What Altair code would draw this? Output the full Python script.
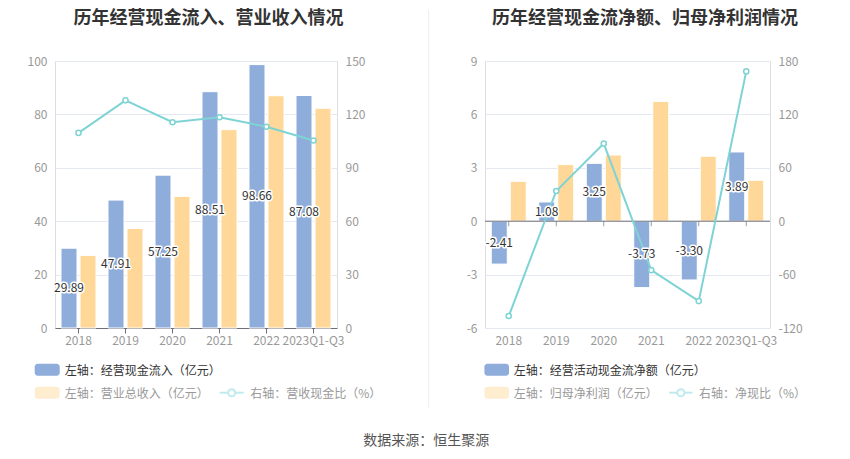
import altair as alt
import pandas as pd

# ---------------- data ----------------
categories = ["2018", "2019", "2020", "2021", "2022", "2023Q1-Q3"]
cash_inflow = [29.89, 47.91, 57.25, 88.51, 98.66, 87.08]
revenue = [27.2, 37.3, 49.3, 74.3, 87.0, 82.3]
cash_ratio = [109.6, 127.9, 115.6, 118.4, 113.1, 105.3]
net_cash = [-2.41, 1.08, 3.25, -3.73, -3.30, 3.89]
net_profit = [2.24, 3.18, 3.72, 6.73, 3.65, 2.30]
net_ratio = [-106.6, 34.0, 87.2, -55.0, -89.8, 168.3]

left_ticks_1 = [0, 20, 40, 60, 80, 100]
right_ticks_1 = [0, 30, 60, 90, 120, 150]
left_ticks_2 = [-6, -3, 0, 3, 6, 9]
right_ticks_2 = [-120, -60, 0, 60, 120, 180]

titles = ["历年经营现金流入、营业收入情况", "历年经营现金流净额、归母净利润情况"]
legend_1 = ["左轴：经营现金流入（亿元）", "左轴：营业总收入（亿元）", "右轴：营收现金比（%）"]
legend_2 = ["左轴：经营活动现金流净额（亿元）", "左轴：归母净利润（亿元）", "右轴：净现比（%）"]
source_text = "数据来源：恒生聚源"

# ---------------- style ----------------
FONT = "Noto Sans CJK SC"
BLUE, ORANGE, TEAL = "#8FADDB", "#FFD899", "#7ED3D4"
ORANGE_L, TEAL_L = "#FFEDD0", "#BFEBEC"
GRID, AXIS, LABEL = "#E3E8F2", "#6E7079", "#999999"
H = 267
BAR_W, BAR_OFF = 16, 9.5


def one_row(**kw):
    return pd.DataFrame([kw])


def text_layer(txt, x, y, size=12, color="#333333", align="left", weight="normal"):
    return alt.Chart(one_row(t=txt)).mark_text(
        text=txt, font=FONT, fontSize=size, color=color, align=align,
        baseline="middle", fontWeight=weight
    ).encode(x=alt.value(x), y=alt.value(y))


def panel(W, title, title_x, v1, v2, ratio, ldom, lvals, rdom, rvals,
          legend, lg, zero_line, extra=()):
    df = pd.DataFrame({
        "cat": categories, "v1": v1, "v2": v2, "r": ratio,
        "lab": [f"{v:.2f}" for v in v1],
    })

    x = alt.X(
        "cat:N", sort=categories, title=None,
        scale=alt.Scale(paddingInner=0.27, paddingOuter=0.135),
        axis=alt.Axis(
            labelAngle=0, labelFont=FONT, labelFontSize=12, labelColor=LABEL,
            labelOverlap=False, labelBound=False, grid=False,
            domain=not zero_line, domainColor=AXIS,
            ticks=not zero_line, tickColor=AXIS, tickSize=5,
            labelPadding=7 if zero_line else 2,
        ),
    )
    lscale = alt.Scale(domain=ldom, nice=False)
    rscale = alt.Scale(domain=rdom, nice=False)
    base = alt.Chart(df)

    bars1 = base.mark_bar(width=BAR_W, xOffset=-BAR_OFF, color=BLUE,
                          stroke="white", strokeWidth=1).encode(
        x=x,
        y=alt.Y("v1:Q", scale=lscale, title=None,
                axis=alt.Axis(orient="left", values=lvals, grid=True, gridColor=GRID,
                              domain=False, ticks=False, labelPadding=8,
                              labelFont=FONT, labelFontSize=12, labelColor=LABEL,
                              labelExpr="'' + datum.value")),
    )
    bars2 = base.mark_bar(width=BAR_W, xOffset=BAR_OFF, color=ORANGE,
                          stroke="white", strokeWidth=1).encode(
        x=x, y=alt.Y("v2:Q", scale=lscale, axis=None))
    layers = [bars1, bars2]

    if zero_line:
        zero = alt.Chart(one_row(z=0)).mark_rule(color=AXIS, strokeWidth=1).encode(
            x=alt.value(0), x2=alt.value(W),
            y=alt.Y("z:Q", scale=lscale, axis=None))
        zticks = base.transform_calculate(z="0").mark_tick(
            orient="vertical", size=5, yOffset=2.5, color=AXIS, thickness=1
        ).encode(x=x, y=alt.Y("z:Q", scale=lscale, axis=None))
        layers += [zero, zticks]

    line = base.mark_line(color=TEAL, strokeWidth=2).encode(
        x=x,
        y=alt.Y("r:Q", scale=rscale, title=None,
                axis=alt.Axis(orient="right", values=rvals, grid=False, domain=False,
                              ticks=False, labelPadding=8, labelFont=FONT,
                              labelFontSize=12, labelColor=LABEL,
                              labelExpr="'' + datum.value")),
    )
    pts = base.mark_point(
        filled=True, fill="white", stroke=TEAL, strokeWidth=1.5, size=26, opacity=1
    ).encode(x=x, y=alt.Y("r:Q", scale=rscale, axis=None))

    halo = base.transform_calculate(mid="datum.v1 / 2").mark_text(
        font=FONT, fontSize=12, stroke="white", strokeWidth=3, strokeJoin="round",
        fill="white", xOffset=-BAR_OFF
    ).encode(x=x, y=alt.Y("mid:Q", scale=lscale, axis=None), text="lab:N")
    txt = base.transform_calculate(mid="datum.v1 / 2").mark_text(
        font=FONT, fontSize=12, fill="#333333", xOffset=-BAR_OFF
    ).encode(x=x, y=alt.Y("mid:Q", scale=lscale, axis=None), text="lab:N")

    layers += [line, pts, halo, txt]

    # title
    layers.append(text_layer(title, title_x, -42.0, size=18, align="center", weight="bold"))

    # legend
    sw0, sw1, tx, lx0, lx1, tx3 = lg
    r1a, r1b, r1c = 302.7, 314.7, 309.7
    r2a, r2b, r2c = 325.7, 337.7, 332.7
    layers.append(alt.Chart(one_row(k=1)).mark_rect(color=BLUE, cornerRadius=3).encode(
        x=alt.value(sw0), x2=alt.value(sw1), y=alt.value(r1a), y2=alt.value(r1b)))
    layers.append(text_layer(legend[0], tx, r1c, color="#333333"))
    layers.append(alt.Chart(one_row(k=2)).mark_rect(color=ORANGE_L, cornerRadius=3).encode(
        x=alt.value(sw0), x2=alt.value(sw1), y=alt.value(r2a), y2=alt.value(r2b)))
    layers.append(text_layer(legend[1], tx, r2c, color=LABEL))
    layers.append(alt.Chart(one_row(k=3)).mark_rule(color=TEAL_L, strokeWidth=2).encode(
        x=alt.value(lx0), x2=alt.value(lx1), y=alt.value(r2c - 1)))
    layers.append(alt.Chart(one_row(k=4)).mark_point(
        filled=True, fill="white", stroke=TEAL_L, strokeWidth=2, size=50, opacity=1
    ).encode(x=alt.value((lx0 + lx1) / 2), y=alt.value(r2c - 1)))
    layers.append(text_layer(legend[2], tx3, r2c, color=LABEL))

    layers += list(extra)

    return alt.layer(*layers).resolve_scale(y="independent").properties(width=W, height=H)


# decorations belonging to the left panel (separator, source note, layout anchor)
extra_1 = [
    alt.Chart(one_row(k=5)).mark_rule(color="#EEEEEE", strokeWidth=1).encode(
        x=alt.value(373.7), y=alt.value(-51.3), y2=alt.value(346.7)),
    alt.Chart(one_row(k=6)).mark_rule(color="white", strokeWidth=1).encode(
        x=alt.value(-45.3), y=alt.value(-51.3), y2=alt.value(-50.3)),
    text_layer(source_text, 371.2, 380.2, size=14, color="#555555", align="center"),
]

p1 = panel(282, titles[0], 153.4, cash_inflow, revenue, cash_ratio,
           [0, 100], left_ticks_1, [0, 150], right_ticks_1, legend_1,
           (-20.3, 4.7, 9.7, 164.7, 188.7, 195.2), zero_line=False, extra=extra_1)
p2 = panel(285, titles[1], 160.0, net_cash, net_profit, net_ratio,
           [-6, 9], left_ticks_2, [-120, 180], right_ticks_2, legend_2,
           (-0.6, 24.0, 28.7, 184.2, 207.5, 214.0), zero_line=True)

chart = alt.hconcat(p1, p2, spacing=148, bounds="flush").properties(
    padding={"left": 0, "top": 0, "right": 5, "bottom": 5}
).configure_view(stroke=None).configure(font=FONT, background="white")

chart.save("out.html", embed_options={"renderer": "svg", "actions": False})
